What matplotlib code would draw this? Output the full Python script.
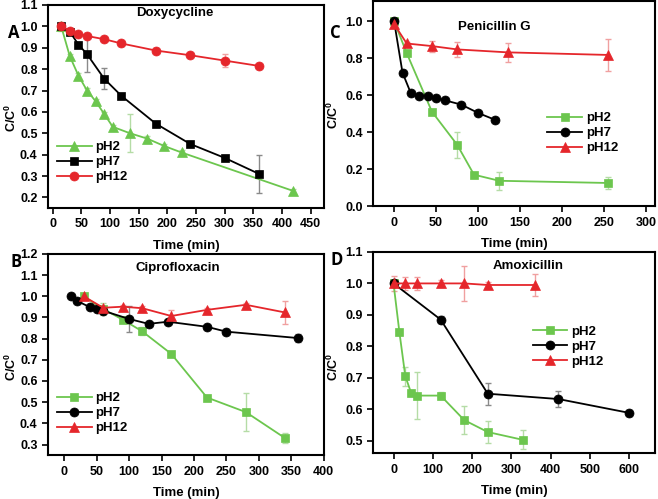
import matplotlib
matplotlib.use("Agg")
import matplotlib.pyplot as plt

plt.rcParams["font.family"] = ["Liberation Sans", "DejaVu Sans"]
plt.rcParams["font.weight"] = "bold"
plt.rcParams["mathtext.fontset"] = "custom"
plt.rcParams["mathtext.rm"] = "Liberation Sans:bold"
plt.rcParams["mathtext.bf"] = "Liberation Sans:bold"

GREEN = "#6cc64e"
BLACK = "#000000"
RED = "#e5262b"
GREEN_ERR = "#b5dca6"
BLACK_ERR = "#8a8a8a"
RED_ERR = "#f0a0a0"

# Panel A - Doxycycline
dox_ph2_t = [15, 30, 45, 60, 75, 90, 105, 135, 165, 195, 225, 420]
dox_ph2_c = [1.0, 0.86, 0.77, 0.70, 0.65, 0.59, 0.53, 0.50, 0.475, 0.44, 0.41, 0.23]
dox_ph2_e = [0.02, 0.01, 0.01, 0.01, 0.01, 0.01, 0.01, 0.09, 0.01, 0.01, 0.01, 0.01]
dox_ph7_t = [15, 30, 45, 60, 90, 120, 180, 240, 300, 360]
dox_ph7_c = [1.0, 0.975, 0.915, 0.87, 0.755, 0.675, 0.545, 0.45, 0.385, 0.31]
dox_ph7_e = [0.01, 0.01, 0.01, 0.085, 0.05, 0.01, 0.01, 0.01, 0.01, 0.09]
dox_ph12_t = [15, 30, 45, 60, 90, 120, 180, 240, 300, 360]
dox_ph12_c = [1.0, 0.98, 0.965, 0.955, 0.94, 0.92, 0.887, 0.865, 0.84, 0.815]
dox_ph12_e = [0.01, 0.01, 0.01, 0.01, 0.01, 0.01, 0.01, 0.01, 0.03, 0.01]

# Panel B - Ciprofloxacin
cip_ph2_t = [30, 60, 90, 120, 165, 220, 280, 340]
cip_ph2_c = [1.0, 0.94, 0.89, 0.835, 0.728, 0.522, 0.453, 0.331]
cip_ph2_e = [0.01, 0.03, 0.01, 0.02, 0.01, 0.01, 0.09, 0.025]
cip_ph7_t = [10, 20, 40, 50, 60, 100, 130, 160, 220, 250, 360]
cip_ph7_c = [1.0, 0.978, 0.948, 0.94, 0.932, 0.893, 0.87, 0.88, 0.856, 0.833, 0.803]
cip_ph7_e = [0.01, 0.01, 0.01, 0.01, 0.01, 0.06, 0.01, 0.01, 0.01, 0.01, 0.02]
cip_ph12_t = [30, 60, 90, 120, 165, 220, 280, 340]
cip_ph12_c = [1.0, 0.946, 0.951, 0.944, 0.907, 0.936, 0.96, 0.924]
cip_ph12_e = [0.01, 0.01, 0.01, 0.01, 0.03, 0.01, 0.01, 0.055]

# Panel C - Penicillin G
pen_ph2_t = [0, 15, 45, 75, 95, 125, 255]
pen_ph2_c = [1.0, 0.828, 0.511, 0.332, 0.17, 0.137, 0.125]
pen_ph2_e = [0.01, 0.01, 0.01, 0.07, 0.01, 0.05, 0.03]
pen_ph7_t = [0, 10, 20, 30, 40, 50, 60, 80, 100, 120]
pen_ph7_c = [1.0, 0.722, 0.61, 0.596, 0.598, 0.585, 0.573, 0.549, 0.504, 0.467]
pen_ph7_e = [0.01, 0.01, 0.01, 0.01, 0.01, 0.01, 0.01, 0.01, 0.01, 0.01]
pen_ph12_t = [0, 15, 45, 75, 135, 255]
pen_ph12_c = [0.985, 0.88, 0.866, 0.848, 0.832, 0.818]
pen_ph12_e = [0.01, 0.01, 0.03, 0.04, 0.05, 0.085]

# Panel D - Amoxicillin
amx_ph2_t = [0, 15, 30, 45, 60, 120, 180, 240, 330]
amx_ph2_c = [1.0, 0.845, 0.705, 0.651, 0.643, 0.643, 0.565, 0.527, 0.502]
amx_ph2_e = [0.01, 0.01, 0.03, 0.01, 0.075, 0.01, 0.045, 0.035, 0.03]
amx_ph7_t = [0, 120, 240, 420, 600]
amx_ph7_c = [1.0, 0.885, 0.649, 0.632, 0.588]
amx_ph7_e = [0.01, 0.01, 0.035, 0.025, 0.01]
amx_ph12_t = [0, 30, 60, 120, 180, 240, 360]
amx_ph12_c = [1.0, 1.0, 1.0, 1.0, 1.0, 0.995, 0.995]
amx_ph12_e = [0.025, 0.02, 0.02, 0.01, 0.055, 0.01, 0.035]


def draw_series(ax, t, c, e, color, ecolor, marker, label, ms):
    ax.errorbar(t, c, yerr=e, fmt="none", ecolor=ecolor, elinewidth=1,
                capsize=2.5, capthick=1, zorder=2)
    ax.plot(t, c, color=color, marker=marker, markersize=ms, linewidth=1.3,
            label=label, zorder=3, markeredgewidth=0.5,
            markeredgecolor=color)


def style_axis(ax, xlim, ylim, xticks, yticks):
    ax.set_xlim(*xlim)
    ax.set_ylim(*ylim)
    ax.set_xticks(xticks)
    ax.set_yticks(yticks)
    ax.set_yticklabels([f"{v:.1f}" for v in yticks])
    ax.tick_params(direction="out", length=4, width=1.2, labelsize=9)
    for lbl in ax.get_xticklabels() + ax.get_yticklabels():
        lbl.set_fontweight("bold")
    for sp in ax.spines.values():
        sp.set_linewidth(1.5)
    ax.set_xlabel("Time (min)", fontsize=9.5, fontweight="bold", labelpad=7)


fig = plt.figure(figsize=(6.58, 4.99), dpi=100)

axA = fig.add_axes([0.073, 0.583, 0.419, 0.407])
axC = fig.add_axes([0.567, 0.587, 0.428, 0.411])
axB = fig.add_axes([0.073, 0.088, 0.419, 0.403])
axD = fig.add_axes([0.567, 0.092, 0.428, 0.403])

# A
draw_series(axA, dox_ph2_t, dox_ph2_c, dox_ph2_e, GREEN, GREEN_ERR, "^", "pH2", 7)
draw_series(axA, dox_ph7_t, dox_ph7_c, dox_ph7_e, BLACK, BLACK_ERR, "s", "pH7", 6)
draw_series(axA, dox_ph12_t, dox_ph12_c, dox_ph12_e, RED, RED_ERR, "o", "pH12", 6.5)
style_axis(axA, (-8, 473), (0.15, 1.1), range(0, 451, 50),
           [0.2, 0.3, 0.4, 0.5, 0.6, 0.7, 0.8, 0.9, 1.0, 1.1])

# B
draw_series(axB, cip_ph2_t, cip_ph2_c, cip_ph2_e, GREEN, GREEN_ERR, "s", "pH2", 6)
draw_series(axB, cip_ph7_t, cip_ph7_c, cip_ph7_e, BLACK, BLACK_ERR, "o", "pH7", 6.5)
draw_series(axB, cip_ph12_t, cip_ph12_c, cip_ph12_e, RED, RED_ERR, "^", "pH12", 7)
style_axis(axB, (-25, 400), (0.25, 1.2), range(0, 401, 50),
           [0.3, 0.4, 0.5, 0.6, 0.7, 0.8, 0.9, 1.0, 1.1, 1.2])

# C
draw_series(axC, pen_ph2_t, pen_ph2_c, pen_ph2_e, GREEN, GREEN_ERR, "s", "pH2", 6)
draw_series(axC, pen_ph7_t, pen_ph7_c, pen_ph7_e, BLACK, BLACK_ERR, "o", "pH7", 6.5)
draw_series(axC, pen_ph12_t, pen_ph12_c, pen_ph12_e, RED, RED_ERR, "^", "pH12", 7)
style_axis(axC, (-25, 310), (0.0, 1.11), range(0, 301, 50),
           [0.0, 0.2, 0.4, 0.6, 0.8, 1.0])

# D
draw_series(axD, amx_ph2_t, amx_ph2_c, amx_ph2_e, GREEN, GREEN_ERR, "s", "pH2", 6)
draw_series(axD, amx_ph7_t, amx_ph7_c, amx_ph7_e, BLACK, BLACK_ERR, "o", "pH7", 6.5)
draw_series(axD, amx_ph12_t, amx_ph12_c, amx_ph12_e, RED, RED_ERR, "^", "pH12", 7)
style_axis(axD, (-52, 665), (0.46, 1.1), range(0, 601, 100),
           [0.5, 0.6, 0.7, 0.8, 0.9, 1.0, 1.1])

# drug names inside the plots
titles = [(axA, "Doxycycline", 0.46, 0.96), (axB, "Ciprofloxacin", 0.47, 0.93),
          (axC, "Penicillin G", 0.43, 0.873), (axD, "Amoxicillin", 0.55, 0.93)]
for ax, name, tx, ty in titles:
    ax.text(tx, ty, name, transform=ax.transAxes, ha="center", va="center",
            fontsize=9.5, fontweight="bold")

leg_kw = dict(frameon=False, handlelength=2.6, handletextpad=0.3,
              labelspacing=0.2, borderaxespad=0, loc="center left",
              bbox_transform=fig.transFigure,
              prop={"weight": "bold", "size": 9.5})
axA.legend(bbox_to_anchor=(0.079, 0.675), **leg_kw)
axB.legend(bbox_to_anchor=(0.079, 0.172), **leg_kw)
axC.legend(bbox_to_anchor=(0.824, 0.733), **leg_kw)
axD.legend(bbox_to_anchor=(0.802, 0.305), **leg_kw)

ylab = r"$\mathbf{C/C^0}$"
for x, y in [(0.018, 0.764), (0.018, 0.265), (0.506, 0.77), (0.506, 0.265)]:
    fig.text(x, y, ylab, rotation=90, fontsize=9, ha="center", va="center")

panel_font = dict(fontsize=12, fontweight="bold", family=["Open Sans", "DejaVu Sans"],
                  ha="center", va="center")
fig.text(0.021, 0.934, "A", **panel_font)
fig.text(0.024, 0.475, "B", **panel_font)
fig.text(0.509, 0.934, "C", **panel_font)
fig.text(0.512, 0.479, "D", **panel_font)

fig.savefig("out.png", dpi=100)
